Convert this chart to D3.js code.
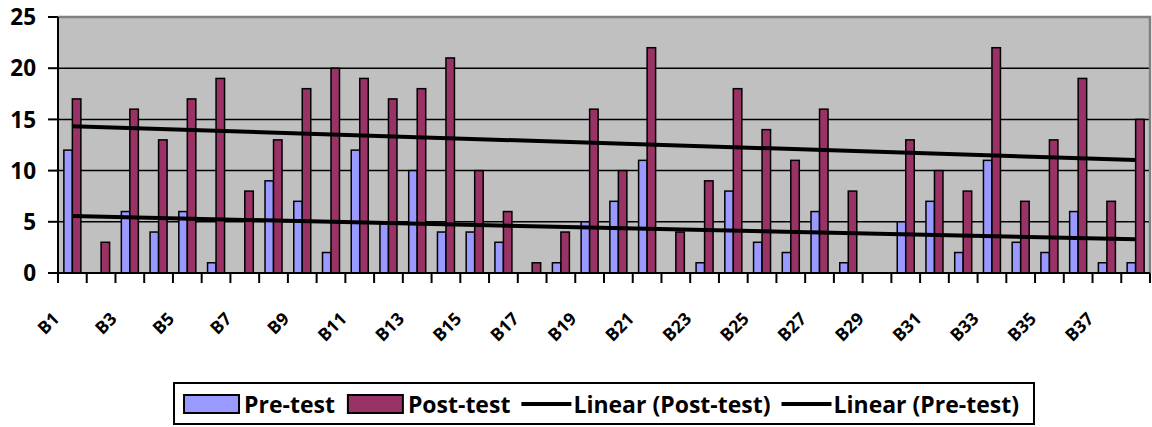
<!DOCTYPE html>
<html>
<head>
<meta charset="utf-8">
<script src="https://cdn.jsdelivr.net/npm/d3@7"></script>
<style>
  body { margin: 0; background: #fff; }
  text { font-family: "Open Sans", sans-serif; font-weight: bold; fill: #000; }
</style>
</head>
<body>
<svg id="chart" width="1152" height="427"></svg>
<script>
// data
var categories = ["B1","B2","B3","B4","B5","B6","B7","B8","B9","B10",
  "B11","B12","B13","B14","B15","B16","B17","B18","B19","B20",
  "B21","B22","B23","B24","B25","B26","B27","B28","B29","B30",
  "B31","B32","B33","B34","B35","B36","B37","B38"];
var preTest = [12,0,6,4,6,1,0,9,7,2,12,5,10,4,4,3,0,1,5,7,11,0,1,8,3,2,6,1,0,5,7,2,11,3,2,6,1,1];
var postTest = [17,3,16,13,17,19,8,13,18,20,19,17,18,21,10,6,1,4,16,10,22,4,9,18,14,11,16,8,0,13,10,8,22,7,13,19,7,15];
var yTicks = [0, 5, 10, 15, 20, 25];
var seriesNames = ["Pre-test", "Post-test"];

var colors = {pre: "#9999FF", post: "#993366"};
var margin = {top: 17, right: 2, bottom: 154, left: 58};
var width = 1152 - margin.left - margin.right,
    height = 427 - margin.top - margin.bottom;

var svg = d3.select("#chart");
var g = svg.append("g").attr("transform", "translate(" + margin.left + "," + margin.top + ")");

var x0 = d3.scaleBand().domain(categories).range([0, width]).padding(0);
var x1 = d3.scaleBand().domain(["pre", "post"]).range([0, x0.bandwidth()]).paddingInner(0).paddingOuter(0.69);
var y = d3.scaleLinear().domain([0, 25]).range([height, 0]);

// plot area
g.append("rect").attr("width", width).attr("height", height).attr("fill", "#C0C0C0");

// gridlines
g.selectAll(".grid").data(yTicks.filter(function(d) { return d > 0 && d < 25; }))
  .enter().append("line")
    .attr("x1", 0).attr("x2", width)
    .attr("y1", function(d) { return y(d); }).attr("y2", function(d) { return y(d); })
    .attr("stroke", "#000").attr("stroke-width", 1.5);

// border top/right
g.append("path")
  .attr("d", "M0," + y(25) + "H" + width + "V" + height)
  .attr("fill", "none").attr("stroke", "#808080").attr("stroke-width", 2.5);

// bars
var rows = categories.map(function(c, i) { return {cat: c, pre: preTest[i], post: postTest[i]}; });
var groups = g.selectAll(".cat").data(rows).enter().append("g")
  .attr("transform", function(d) { return "translate(" + x0(d.cat) + ",0)"; });
groups.selectAll("rect").data(function(d) { return [{k: "pre", v: d.pre}, {k: "post", v: d.post}]; })
  .enter().append("rect")
    .attr("x", function(d) { return x1(d.k); })
    .attr("y", function(d) { return y(d.v); })
    .attr("width", x1.bandwidth())
    .attr("height", function(d) { return height - y(d.v); })
    .attr("fill", function(d) { return colors[d.k]; })
    .attr("stroke", "#000").attr("stroke-width", 1.5);

// linear trend lines (least squares over category index)
function fit(vals) {
  var n = vals.length, xs = d3.range(1, n + 1);
  var mx = d3.mean(xs), my = d3.mean(vals);
  var sxy = d3.sum(xs, function(xv, i) { return (xv - mx) * (vals[i] - my); });
  var sxx = d3.sum(xs, function(xv) { return (xv - mx) * (xv - mx); });
  var b = sxy / sxx, a = my - b * mx;
  return [1, n].map(function(xv) { return [xv, a + b * xv]; });
}
var xc = function(i) { return x0(categories[i - 1]) + x0.bandwidth() / 2; };
var line = d3.line().x(function(d) { return xc(d[0]); }).y(function(d) { return y(d[1]); });
[postTest, preTest].forEach(function(vals) {
  g.append("path").attr("d", line(fit(vals)))
    .attr("fill", "none").attr("stroke", "#000").attr("stroke-width", 4);
});

// y axis
g.append("line").attr("x1", 0).attr("x2", 0).attr("y1", 0).attr("y2", height)
  .attr("stroke", "#000").attr("stroke-width", 2);
g.selectAll(".ytick").data(yTicks).enter().append("line")
  .attr("x1", -10).attr("x2", 0)
  .attr("y1", function(d) { return y(d); }).attr("y2", function(d) { return y(d); })
  .attr("stroke", "#000").attr("stroke-width", 2);
g.selectAll(".ylab").data(yTicks).enter().append("text")
  .attr("x", -22).attr("y", function(d) { return y(d); })
  .attr("dy", "0.36em").attr("text-anchor", "end")
  .style("font-size", "22.5px")
  .text(function(d) { return d; });

// x axis
g.append("line").attr("x1", 0).attr("x2", width).attr("y1", height).attr("y2", height)
  .attr("stroke", "#000").attr("stroke-width", 2);
g.selectAll(".xtick").data(categories.concat([null])).enter().append("line")
  .attr("x1", function(d, i) { return i * x0.step(); })
  .attr("x2", function(d, i) { return i * x0.step(); })
  .attr("y1", height).attr("y2", height + 10)
  .attr("stroke", "#000").attr("stroke-width", 2);
g.selectAll(".xlab").data(categories.filter(function(d, i) { return i % 2 === 0; }))
  .enter().append("text")
    .attr("class", "xlab")
    .attr("transform", function(d) {
      return "translate(" + (x0(d) + x0.bandwidth() / 2 - 12) + "," + (height + 47) + ") rotate(-45)";
    })
    .attr("text-anchor", "end")
    .style("font-size", "17.5px")
    .text(function(d) { return d; });

// legend
var legendItems = [
  {label: seriesNames[0], type: "box", color: colors.pre},
  {label: seriesNames[1], type: "box", color: colors.post},
  {label: "Linear (Post-test)", type: "line"},
  {label: "Linear (Pre-test)", type: "line"}
];
var legend = svg.append("g");
var box = legend.append("rect").attr("y", 383).attr("height", 41)
  .attr("fill", "#fff").attr("stroke", "#000").attr("stroke-width", 2);
var cx = 0;
legendItems.forEach(function(it) {
  var item = legend.append("g").attr("class", "litem");
  if (it.type === "box") {
    item.append("rect").attr("x", cx).attr("y", 395).attr("width", 55).attr("height", 18)
      .attr("fill", it.color).attr("stroke", "#000").attr("stroke-width", 2);
    cx += 60;
  } else {
    item.append("line").attr("x1", cx - 2).attr("x2", cx + 48).attr("y1", 404).attr("y2", 404)
      .attr("stroke", "#000").attr("stroke-width", 4);
    cx += 50;
  }
  var t = item.append("text").attr("x", cx).attr("y", 413).style("font-size", "23px").text(it.label);
  cx += t.node().getComputedTextLength() + 13;
});
var total = cx - 13 + 10 + 15;
var left = margin.left + width / 2 - total / 2;
legend.selectAll(".litem").attr("transform", "translate(" + (left + 10) + ",0)");
box.attr("x", left).attr("width", total);
</script>
</body>
</html>
